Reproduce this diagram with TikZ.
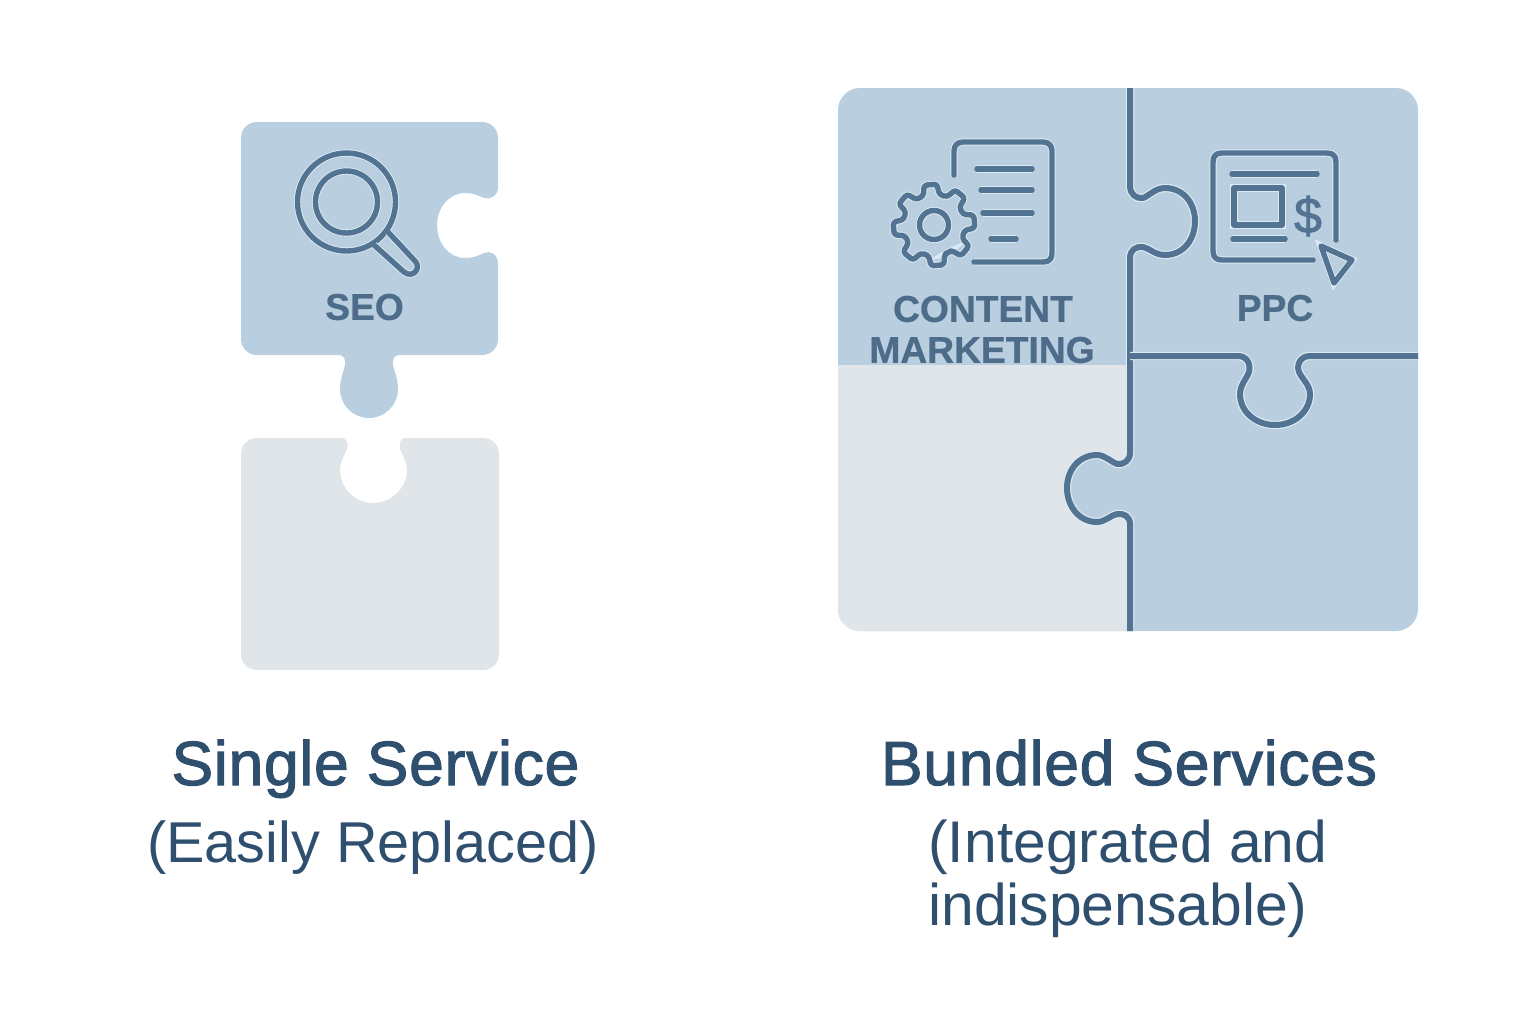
\documentclass[tikz,border=0pt]{standalone}
\usepackage{fontspec}
\usepackage{xcolor}
\setmainfont{Liberation Sans}
\newfontfamily\titlefont[FakeBold=1.8,LetterSpace=1.2]{Liberation Sans}
\newfontfamily\labelfont[BoldFeatures={FakeBold=0.7}]{Liberation Sans}
\definecolor{pieceblue}{HTML}{B9CEDE}
\definecolor{piecegrey}{HTML}{DFE5E9}
\definecolor{inkblue}{HTML}{527391}
\definecolor{glowblue}{HTML}{DCEAF4}
\definecolor{labelblue}{HTML}{4C6C8A}
\definecolor{titleblue}{HTML}{2F4F6F}
\tikzstyle{iconline} = [draw=inkblue, line width=2.7pt, line cap=round, line join=round,
preaction={draw=glowblue, line width=3.6pt}]
\tikzstyle{seamline} = [draw=inkblue, line width=3pt, line join=round,
preaction={draw=glowblue, line width=4.2pt}]
\tikzstyle{piecelabel} = [text=labelblue, font=\labelfont\fontsize{18.6}{20}\selectfont\bfseries, inner sep=0pt]
\tikzstyle{headline} = [text=titleblue, font=\titlefont\fontsize{31.2}{32}\selectfont, inner sep=0pt, anchor=base]
\tikzstyle{subline} = [text=titleblue, font=\fontsize{28.8}{31.5}\selectfont, inner sep=0pt, anchor=base]
\newcommand{\lefttab}{(1130,453) .. controls (1130,461) and (1123,465) .. (1117,464)
    .. controls (1111,462) and (1105,455) .. (1097,455)
    .. controls (1079,455) and (1067,470) .. (1067,488)
    .. controls (1067,506) and (1079,522) .. (1097,522)
    .. controls (1105,522) and (1111,515) .. (1117,514)
    .. controls (1123,513) and (1130,516) .. (1130,524)}

\begin{document}
\begin{tikzpicture}[x=0.5pt,y=-0.5pt]
    \useasboundingbox (0,0) rectangle (1536,1024);

    % single piece
    \fill[pieceblue] (241,138) .. controls (241,129) and (248,122) .. (257,122) -- (482,122)
        .. controls (491,122) and (498,129) .. (498,138) -- (498,187)
        .. controls (498,196) and (490,200) .. (484,198)
        .. controls (478,195) and (472,193) .. (465,193)
        .. controls (449,193) and (437,208) .. (437,225)
        .. controls (437,243) and (449,258) .. (465,258)
        .. controls (472,258) and (478,256) .. (484,253)
        .. controls (490,250) and (498,254) .. (498,264) -- (498,339)
        .. controls (498,348) and (491,355) .. (482,355) -- (398,355)
        .. controls (394,356) and (392,360) .. (393,365)
        .. controls (394,371) and (398,378) .. (398,389)
        .. controls (398,405) and (385,418) .. (369,418)
        .. controls (353,418) and (340,405) .. (340,389)
        .. controls (340,378) and (344,371) .. (345,365)
        .. controls (346,360) and (344,356) .. (340,355) -- (257,355)
        .. controls (248,355) and (241,348) .. (241,339) -- cycle;
    \fill[piecegrey] (241,454) .. controls (241,445) and (248,438) .. (257,438) -- (342,438)
        .. controls (347,439) and (349,443) .. (347,449)
        .. controls (345,455) and (340,461) .. (340,470)
        .. controls (340,488) and (355,503) .. (373,503)
        .. controls (391,503) and (407,488) .. (407,470)
        .. controls (407,461) and (402,455) .. (400,449)
        .. controls (399,443) and (400,439) .. (405,438) -- (483,438)
        .. controls (492,438) and (499,445) .. (499,454) -- (499,654)
        .. controls (499,663) and (492,670) .. (483,670) -- (257,670)
        .. controls (248,670) and (241,663) .. (241,654) -- cycle;

    % magnifier
    \draw[iconline] (346.5,202) circle[radius=49];
    \draw[iconline] (346.5,202) circle[radius=31];
    \draw[iconline] (374,245) -- (404,272) .. controls (409,276) and (414,274) .. (416,271)
        .. controls (418,268) and (418,264) .. (415,261) -- (388,232);
    \node[piecelabel] (seolabel) at (364.5,307) {SEO};

    % bundled board
    \fill[pieceblue] (838,110) .. controls (838,98) and (848,88) .. (860,88) -- (1396,88)
        .. controls (1408,88) and (1418,98) .. (1418,110) -- (1418,609)
        .. controls (1418,621) and (1408,631) .. (1396,631) -- (860,631)
        .. controls (848,631) and (838,621) .. (838,609) -- cycle;
    \fill[piecegrey] (838,365) -- (1130,365) -- \lefttab -- (1130,631) -- (860,631)
        .. controls (848,631) and (838,621) .. (838,609) -- cycle;

    % seams
    \draw[seamline] (1130,88) -- (1130,186) .. controls (1130,194) and (1136,199) .. (1143,198)
        .. controls (1149,196) and (1155,188) .. (1165,188)
        .. controls (1183,188) and (1195,203) .. (1195,221)
        .. controls (1195,240) and (1183,255) .. (1165,255)
        .. controls (1155,255) and (1149,248) .. (1143,247)
        .. controls (1136,246) and (1130,250) .. (1130,258) -- \lefttab -- (1130,631);
    \draw[seamline] (1130,356) -- (1238,356) .. controls (1247,356) and (1251,364) .. (1249,372)
        .. controls (1247,378) and (1240,385) .. (1240,394)
        .. controls (1240,412) and (1256,425) .. (1275,425)
        .. controls (1294,425) and (1310,412) .. (1310,394)
        .. controls (1310,385) and (1302,379) .. (1299,372)
        .. controls (1296,364) and (1301,356) .. (1310,356) -- (1418,356);

    % content icon
    \draw[iconline] (954,175) -- (954,151) .. controls (954,145) and (958,142) .. (963,142) -- (1043,142)
        .. controls (1049,142) and (1052,146) .. (1052,151) -- (1052,253)
        .. controls (1052,259) and (1049,262) .. (1043,262) -- (974,262);
    \foreach \ya/\xa in {169/977,190/981,213/983,239/991}
        \draw[iconline] (\xa,\ya) -- ({\ya==239 ? 1016 : 1032},\ya);
    \begin{scope}[shift={(934,225)}]
        \draw[iconline, rounded corners=1.5pt] (85-22.5:31)
            \foreach \a in {85,130,...,400} {
                -- (\a-15:31) -- (\a-9:41) -- (\a+9:41) -- (\a+15:31)
            } -- cycle;
        \draw[iconline] (0,0) circle[radius=14.5];
    \end{scope}
    \node[piecelabel] (contentlabel) at (983,309) {CONTENT};
    \node[piecelabel] (marketinglabel) at (982,350) {MARKETING};

    % ppc icon
    \draw[iconline] (1336,240) -- (1336,162) .. controls (1336,156) and (1333,153) .. (1327,153) -- (1222,153)
        .. controls (1216,153) and (1213,156) .. (1213,162) -- (1213,251)
        .. controls (1213,257) and (1216,260) .. (1222,260) -- (1313,260);
    \draw[iconline] (1232,174) -- (1317,174);
    \draw[iconline] (1233,239) -- (1285,239);
    \draw[iconline] (1234,188) rectangle (1282,225);
    \draw[iconline] (1321,246) -- (1352,260) -- (1334,283) -- cycle;
    \node[text=inkblue, font=\titlefont\fontsize{25}{28}\selectfont, inner sep=0pt] (dollarsign) at (1308,216) {\$};
    \node[piecelabel] (ppclabel) at (1275,308) {PPC};

    % captions
    \node[headline] (singletitle) at (375.5,785) {Single Service};
    \node[subline] (singlenote) at (373,862) {(Easily Replaced)};
    \node[headline] (bundledtitle) at (1129,785) {Bundled Services};
    \node[subline, anchor=base west, font=\fontsize{29.4}{31.5}\selectfont] (bundlednote) at (928,862) {(Integrated and};
    \node[subline, anchor=base west, font=\fontsize{29.4}{31.5}\selectfont] (bundlednotetail) at (928,925) {indispensable)};
\end{tikzpicture}
\end{document}
